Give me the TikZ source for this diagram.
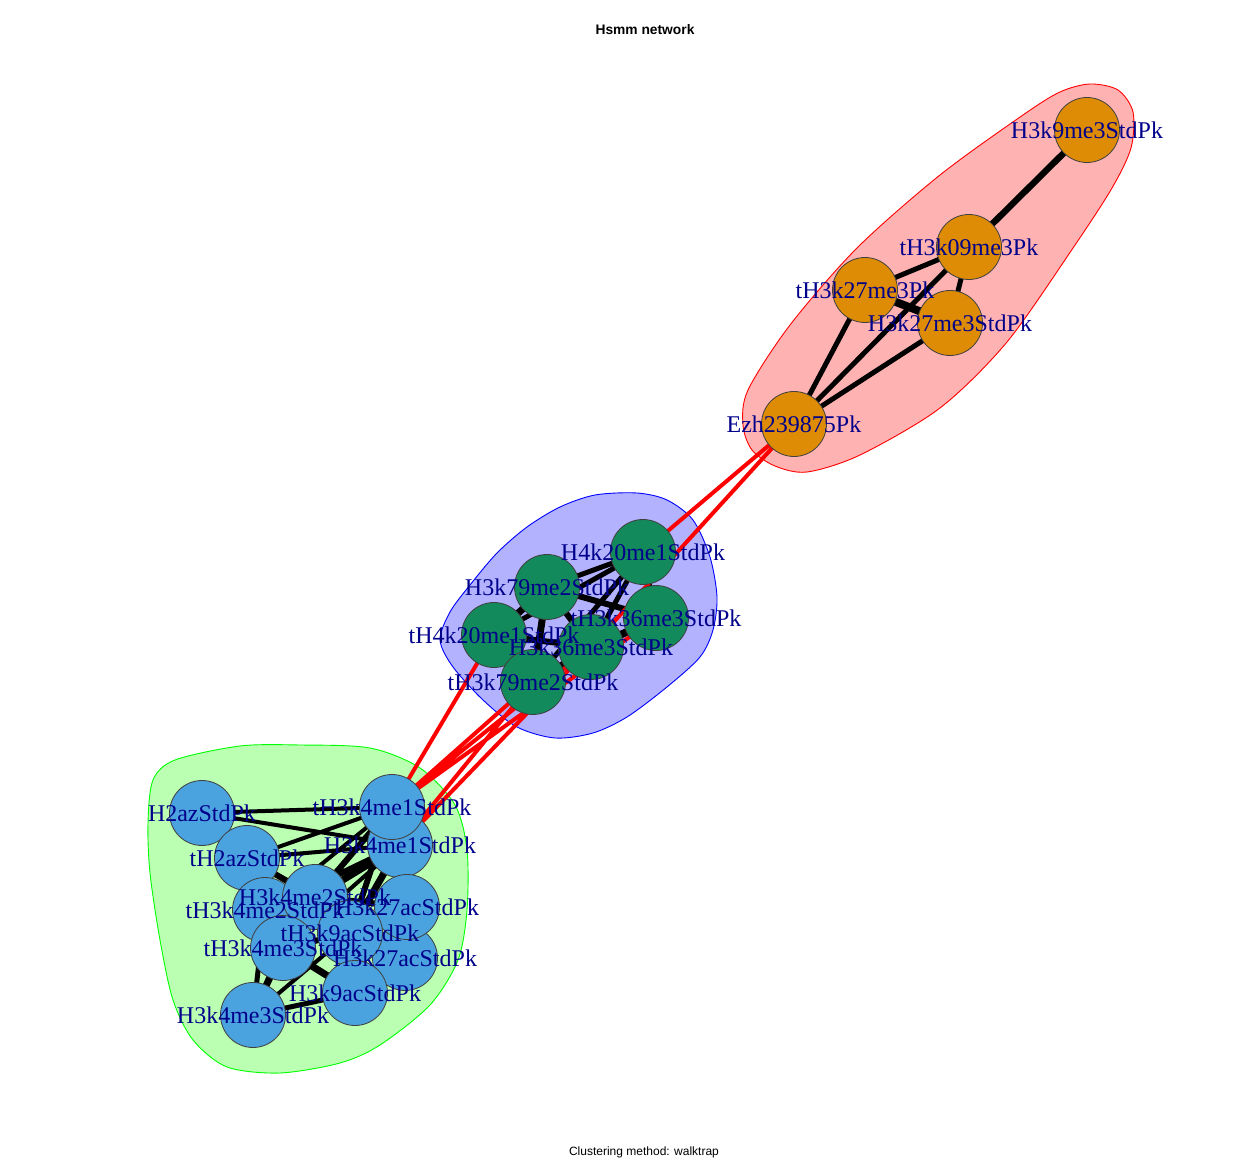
\documentclass[tikz,border=0pt]{standalone}
\usepackage{fontspec}
\setmainfont{Liberation Serif}
\newfontfamily\helvfont{Liberation Sans}
\usepackage{tikz}
\usetikzlibrary{positioning}
\usepackage{xcolor}

\definecolor{vorange}{HTML}{DE8C05}
\definecolor{vgreen}{HTML}{138A5C}
\definecolor{vblue}{HTML}{4AA3DF}
\definecolor{lblblue}{HTML}{00008B}
\definecolor{hullred}{RGB}{255,178,178}
\definecolor{hullgreen}{RGB}{186,255,178}
\definecolor{hullblue}{RGB}{178,178,255}

\pgfdeclarelayer{hull}
\pgfdeclarelayer{edges}
\pgfdeclarelayer{front}
\pgfsetlayers{hull,edges,main,front}

\begin{document}
\begin{tikzpicture}[
    x=0.5pt, y=-0.5pt,
    vtx/.style={circle, draw=black!75, line width=0.4pt, minimum size=32.5pt, inner sep=0pt},
    lbl/.style={text=lblblue, font=\fontsize{12}{12}\selectfont, inner sep=0pt},
    link/.style={line width=#1, black},
    link/.default=2pt,
    crosslink/.style={line width=2pt, red},
    hullline/.style={line width=0.45pt}
  ]
    \useasboundingbox (0,0) rectangle (1260,1160);

    % Titles
    \node[font=\helvfont\bfseries\fontsize{6.9}{7}\selectfont] (title) at (645,30) {Hsmm network};
    \node[font=\helvfont\fontsize{6}{6}\selectfont] (subtitle) at (644,1152) {Clustering method: walktrap};

    % Group hulls
    \begin{pgfonlayer}{hull}
    \filldraw[hullline, fill=hullred, draw=red] plot[smooth cycle] coordinates {
      (1090,84) (1118,90) (1133,112) (1131,148) (1112,188) (1073,248) (1007,342)
      (940,408) (860,455) (807,472) (775,466) (752,450) (743,425) (748,390)
      (790,325) (857,248) (940,175) (1023,115) (1060,92)};
    \filldraw[hullline, fill=hullblue, draw=blue] plot[smooth cycle] coordinates {
      (637,493) (667,500) (693,520) (710,557) (717,597) (713,630) (700,657)
      (667,687) (627,717) (593,733) (555,738) (517,727) (483,700) (453,667)
      (440,640) (450,612) (470,585) (497,553) (527,527) (560,507) (595,495)};
    \filldraw[hullline, fill=hullgreen, draw=green] plot[smooth cycle] coordinates {
      (153,780) (175,760) (240,746) (300,745) (370,748) (420,768) (455,805)
      (467,850) (467,910) (458,960) (430,1005) (380,1045) (340,1063) (280,1073)
      (227,1067) (193,1040) (173,1000) (160,940) (150,873) (148,823)};
    \end{pgfonlayer}

    % Vertices, red group
    \node[vtx, fill=vorange] (ezh) at (794,424) {};
    \node[vtx, fill=vorange] (h3k9me3) at (1087,130) {};
    \node[vtx, fill=vorange] (th3k27me3) at (865,290) {};
    \node[vtx, fill=vorange] (th3k09me3) at (969,247) {};
    \node[vtx, fill=vorange] (h3k27me3) at (950,323) {};

    % Vertices, blue group
    \node[vtx, fill=vgreen] (h4k20me1) at (643,552) {};
    \node[vtx, fill=vgreen] (th3k36me3) at (656,618) {};
    \node[vtx, fill=vgreen] (h3k36me3) at (591,647) {};
    \node[vtx, fill=vgreen] (th4k20me1) at (494,635) {};
    \node[vtx, fill=vgreen] (h3k79me2) at (547,587) {};
    \node[vtx, fill=vgreen] (th3k79me2) at (533,682) {};

    % Vertices, green group
    \node[vtx, fill=vblue] (h2az) at (202,813) {};
    \node[vtx, fill=vblue] (th2az) at (247,858) {};
    \node[vtx, fill=vblue] (h3k4me1) at (400,845) {};
    \node[vtx, fill=vblue] (th3k4me1) at (392,807) {};
    \node[vtx, fill=vblue] (h3k27acb) at (405,958) {};
    \node[vtx, fill=vblue] (h3k27ac) at (407,907) {};
    \node[vtx, fill=vblue] (th3k4me2) at (265,910) {};
    \node[vtx, fill=vblue] (h3k4me2) at (315,897) {};
    \node[vtx, fill=vblue] (th3k4me3) at (283,948) {};
    \node[vtx, fill=vblue] (th3k9ac) at (350,933) {};
    \node[vtx, fill=vblue] (h3k9ac) at (355,993) {};
    \node[vtx, fill=vblue] (h3k4me3) at (253,1015) {};

    % Edges
    \begin{pgfonlayer}{edges}
    \draw[link=2.5pt] (ezh.center) -- (th3k27me3.center) (ezh.center) -- (th3k09me3.center)
      (ezh.center) -- (h3k27me3.center) (th3k27me3.center) -- (th3k09me3.center)
      (th3k09me3.center) -- (h3k27me3.center);
    \draw[link=4pt] (th3k27me3.center) -- (h3k27me3.center);
    \draw[link=3.2pt] (th3k09me3.center) -- (h3k9me3.center);

    \draw[link=2.5pt] (h4k20me1.center) -- (h3k79me2.center) (h4k20me1.center) -- (th4k20me1.center)
      (h4k20me1.center) -- (h3k36me3.center) (h4k20me1.center) -- (th3k79me2.center)
      (h4k20me1.center) -- (th3k36me3.center) (th3k36me3.center) -- (th3k79me2.center);
    \draw[link=3pt] (h3k79me2.center) -- (th3k36me3.center) (h3k79me2.center) -- (h3k36me3.center)
      (th4k20me1.center) -- (h3k36me3.center) (h3k36me3.center) -- (th3k79me2.center)
      (th3k36me3.center) -- (h3k36me3.center);
    \draw[link=3.5pt] (h3k79me2.center) -- (th4k20me1.center) (h3k79me2.center) -- (th3k79me2.center)
      (th4k20me1.center) -- (th3k79me2.center);

    \draw[link=2pt] (h2az.center) -- (th3k4me1.center) (h2az.center) -- (h3k4me1.center)
      (th2az.center) -- (th3k4me1.center) (th2az.center) -- (h3k4me1.center)
      (th3k4me1.center) -- (th3k4me2.center) (th3k4me1.center) -- (h3k27acb.center)
      (h3k4me1.center) -- (th3k4me3.center) (th3k9ac.center) -- (h3k4me3.center);
    \draw[link=2.5pt] (th3k4me2.center) -- (h3k4me3.center) (h3k9ac.center) -- (h3k4me3.center);
    \draw[link=3pt] (h2az.center) -- (th2az.center) (th2az.center) -- (h3k4me2.center)
      (th2az.center) -- (th3k4me2.center) (th3k4me1.center) -- (h3k4me1.center)
      (th3k4me1.center) -- (h3k4me2.center) (th3k4me1.center) -- (h3k27ac.center)
      (th3k4me1.center) -- (th3k9ac.center) (h3k4me1.center) -- (th3k4me2.center)
      (h3k4me1.center) -- (h3k27acb.center) (h3k4me2.center) -- (th3k9ac.center)
      (h3k4me2.center) -- (h3k27ac.center) (h3k4me2.center) -- (th3k4me3.center)
      (th3k4me3.center) -- (th3k9ac.center) (th3k9ac.center) -- (h3k27acb.center)
      (th3k9ac.center) -- (h3k27ac.center) (h3k27ac.center) -- (h3k27acb.center)
      (h3k9ac.center) -- (h3k27acb.center);
    \draw[link=3.5pt] (h3k4me1.center) -- (h3k4me2.center) (h3k4me1.center) -- (th3k9ac.center)
      (h3k4me1.center) -- (h3k27ac.center) (h3k4me2.center) -- (th3k4me2.center)
      (th3k4me2.center) -- (th3k4me3.center) (th3k4me3.center) -- (h3k4me3.center)
      (th3k4me3.center) -- (h3k9ac.center) (th3k9ac.center) -- (h3k9ac.center);

    % Edges between groups
    \draw[crosslink] (ezh.center) -- (h4k20me1.center) (ezh.center) -- (h3k36me3.center);
    \draw[crosslink] (th4k20me1.center) -- (th3k4me1.center) (th3k79me2.center) -- (th3k4me1.center)
      (h3k36me3.center) -- (th3k4me1.center) (th3k36me3.center) -- (th3k4me1.center)
      (th3k79me2.center) -- (h3k4me1.center) (h3k36me3.center) -- (h3k4me1.center);
    \end{pgfonlayer}

    % Labels
    \begin{pgfonlayer}{front}
    \node[lbl] (ezh-l) at (ezh) {Ezh239875Pk};
    \node[lbl] (h3k9me3-l) at (h3k9me3) {H3k9me3StdPk};
    \node[lbl] (th3k27me3-l) at (th3k27me3) {tH3k27me3Pk};
    \node[lbl] (th3k09me3-l) at (th3k09me3) {tH3k09me3Pk};
    \node[lbl] (h3k27me3-l) at (h3k27me3) {H3k27me3StdPk};

    \node[lbl] (h4k20me1-l) at (h4k20me1) {H4k20me1StdPk};
    \node[lbl] (th3k36me3-l) at (th3k36me3) {tH3k36me3StdPk};
    \node[lbl] (h3k36me3-l) at (h3k36me3) {H3k36me3StdPk};
    \node[lbl] (th4k20me1-l) at (th4k20me1) {tH4k20me1StdPk};
    \node[lbl] (h3k79me2-l) at (h3k79me2) {H3k79me2StdPk};
    \node[lbl] (th3k79me2-l) at (th3k79me2) {tH3k79me2StdPk};

    \node[lbl] (h2az-l) at (h2az) {H2azStdPk};
    \node[lbl] (th2az-l) at (th2az) {tH2azStdPk};
    \node[lbl] (h3k4me1-l) at (h3k4me1) {H3k4me1StdPk};
    \node[lbl] (th3k4me1-l) at (th3k4me1) {tH3k4me1StdPk};
    \node[lbl] (h3k27acb-l) at (h3k27acb) {H3k27acStdPk};
    \node[lbl] (h3k27ac-l) at (h3k27ac) {H3k27acStdPk};
    \node[lbl] (th3k4me2-l) at (th3k4me2) {tH3k4me2StdPk};
    \node[lbl] (h3k4me2-l) at (h3k4me2) {H3k4me2StdPk};
    \node[lbl] (th3k4me3-l) at (th3k4me3) {tH3k4me3StdPk};
    \node[lbl] (th3k9ac-l) at (th3k9ac) {tH3k9acStdPk};
    \node[lbl] (h3k9ac-l) at (h3k9ac) {H3k9acStdPk};
    \node[lbl] (h3k4me3-l) at (h3k4me3) {H3k4me3StdPk};
    \end{pgfonlayer}
  \end{tikzpicture}
\end{document}
